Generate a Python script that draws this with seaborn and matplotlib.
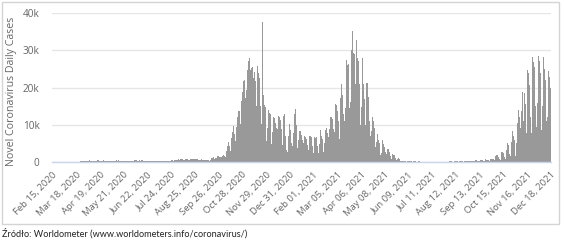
import numpy as np
import pandas as pd
import matplotlib
matplotlib.use("Agg")
import matplotlib.pyplot as plt
import seaborn as sns
from matplotlib.patches import Rectangle

# ---------------- data (daily new cases) ----------------
start_date = "2020-02-15"

cases_2020_02 = [0] * 15
cases_2020_03 = [0, 0, 0, 1, 0, 4, 0, 6, 6, 5, 9, 20, 17, 36, 24, 27, 27, 87, 74, 111,
                 111, 98, 115, 152, 150, 170, 249, 224, 193, 256, 243]
cases_2020_04 = [244, 392, 437, 244, 475, 311, 249, 374, 370, 380, 401, 268, 285, 380, 336,
                 461, 545, 263, 313, 381, 263, 316, 284, 431, 345, 215, 303, 341, 379, 307]
cases_2020_05 = [326, 225, 237, 285, 307, 273, 337, 404, 331, 287, 595, 291, 363, 417, 324,
                 285, 380, 318, 351, 279, 341, 367, 428, 395, 269, 338, 337, 399, 271, 335, 364]
cases_2020_06 = [230, 292, 361, 292, 576, 575, 599, 375, 282, 395, 341, 440, 381, 407, 314,
                 506, 301, 371, 300, 356, 300, 361, 282, 328, 226, 299, 238, 260, 230, 271]
cases_2020_07 = [286, 302, 371, 243, 262, 193, 239, 299, 358, 318, 299, 290, 193, 239, 268,
                 337, 358, 334, 322, 297, 306, 358, 377, 418, 443, 584, 337, 512, 615, 657, 658]
cases_2020_08 = [605, 512, 680, 640, 726, 809, 843, 726, 832, 548, 599, 624, 811, 843, 832,
                 726, 548, 587, 740, 828, 903, 794, 691, 599, 727, 887, 684, 900, 695, 592, 550]
cases_2020_09 = [597, 555, 840, 650, 670, 550, 470, 460, 605, 605, 550, 545, 430, 380, 600,
                 760, 1000, 1002, 1350, 1000, 745, 1136, 1040, 1100, 1587, 1584, 1306, 1000, 1326, 1300]
cases_2020_10 = [1552, 1937, 1934, 1584, 1306, 2236, 3003, 4280, 4739, 5300, 4178, 2938, 5068,
                 6526, 8099, 9622, 9105, 7482, 5709, 9291, 10040, 12107, 13632, 13628, 11742,
                 10241, 16300, 18820, 20156, 21629, 21897]
cases_2020_11 = [17171, 15578, 19364, 24692, 27143, 27086, 27875, 24785, 21713, 25221,
                 25484, 22683, 26415, 24051, 21854, 15002, 19152, 25696, 23975, 22464,
                 21800, 15000, 10100, 37500, 15362, 17856, 15178, 14837, 12143, 5733]
cases_2020_12 = [9105, 13855, 14816, 13236, 12838, 11220, 4917, 7998, 12196, 12697,
                 11875, 10340, 9105, 4385, 8977, 12455, 12168, 11243, 11174, 8857,
                 4633, 7754, 12283, 12953, 6945, 5834, 3211, 2577, 7106, 13397, 10233]
cases_2021_01 = [8500, 6945, 5034, 4360, 7880, 9011, 13003, 14156, 10047, 7318,
                 3879, 5946, 8248, 8003, 8293, 7240, 6024, 3579, 5162, 7113,
                 6830, 6855, 6091, 4659, 3108, 5001, 7000, 6900, 6600, 5900, 4400]
cases_2021_02 = [2454, 4530, 6789, 6496, 6586, 5612, 4210, 2410, 4888, 7960,
                 8694, 7008, 6150, 5032, 2755, 4981, 8695, 8805, 9054, 7900,
                 6600, 3800, 8800, 12142, 12030, 12100, 11500, 8800]
cases_2021_03 = [4786, 7937, 15698, 15250, 15817, 13574, 10896, 6170, 11000, 17260,
                 21045, 18000, 17000, 13000, 10896, 14396, 25052, 27278, 25998, 26405,
                 21849, 14578, 16000, 29978, 34151, 35143, 29253, 29000, 16700, 20880, 32874]
cases_2021_04 = [35251, 28000, 27000, 21000, 14000, 9900, 14700, 27887, 24000, 21000,
                 17000, 9902, 8245, 21283, 21130, 17400, 14200, 11000, 6900, 8200,
                 13900, 12000, 11000, 9000, 7000, 4000, 5400, 9000, 7500, 6000]
cases_2021_05 = [5000, 3200, 1900, 2300, 6000, 5500, 4800, 4000, 2800, 1500,
                 2100, 3600, 3400, 3000, 2600, 1700, 800, 1400, 2200, 2000,
                 1800, 1300, 1000, 500, 700, 1100, 1000, 800, 600, 400, 200]
cases_2021_06 = [250, 500, 400, 350, 300, 200, 100, 150, 400, 350, 300, 250, 200, 100, 90,
                 250, 220, 180, 150, 120, 60, 90, 160, 140, 120, 100, 60, 40, 110, 100]
cases_2021_07 = [100, 90, 80, 60, 50, 80, 90, 100, 80, 70, 50, 40, 70, 100, 90, 80,
                 70, 50, 40, 80, 110, 100, 90, 80, 50, 60, 120, 130, 110, 100, 80]
cases_2021_08 = [70, 90, 150, 180, 160, 140, 120, 100, 80, 160, 200, 220, 180, 150, 110, 90,
                 190, 220, 230, 200, 160, 120, 180, 250, 270, 260, 220, 170, 140, 300, 320]
cases_2021_09 = [400, 380, 350, 300, 250, 200, 450, 500, 450, 400, 350, 300, 250, 550, 600,
                 550, 500, 400, 350, 280, 700, 750, 650, 600, 500, 400, 350, 800, 900, 850]
cases_2021_10 = [800, 750, 600, 450, 1500, 2000, 1900, 1600, 1300, 700,
                 600, 2200, 2700, 2600, 2300, 1900, 1400, 900, 3200, 5400,
                 5000, 4500, 4100, 2200, 1500, 5500, 6700, 8300, 7000, 6000, 4000]
cases_2021_11 = [1600, 5000, 10400, 15300, 14000, 12200, 9000, 6000, 13800, 18800,
                 11000, 19000, 18500, 15500, 7900, 14700, 24700, 23900, 23200, 20600,
                 12000, 7800, 15300, 28200, 26800, 25400, 24800, 15000, 9400, 15800]
cases_2021_12 = [28700, 28500, 27000, 24000, 12000, 8500, 15000, 28200, 27000, 25000,
                 22000, 11000, 6000, 12000, 24300, 22900, 24000, 19900]

tick_labels = ["Feb 15, 2020", "Mar 18, 2020", "Apr 19, 2020", "May 21, 2020",
               "Jun 22, 2020", "Jul 24, 2020", "Aug 25, 2020", "Sep 26, 2020",
               "Oct 28, 2020", "Nov 29, 2020", "Dec 31, 2020", "Feb 01, 2021",
               "Mar 05, 2021", "Apr 06, 2021", "May 08, 2021", "Jun 09, 2021",
               "Jul 11, 2021", "Aug 12, 2021", "Sep 13, 2021", "Oct 15, 2021",
               "Nov 16, 2021", "Dec 18, 2021"]
tick_every = 32
y_ticks = [0, 10000, 20000, 30000, 40000]
y_tick_labels = ["0", "10k", "20k", "30k", "40k"]

y_title = "Novel Coronavirus Daily Cases"
source_text = "Źródło: Worldometer (www.worldometers.info/coronavirus/)"

# ---------------- build table ----------------
cases = (cases_2020_02 + cases_2020_03 + cases_2020_04 + cases_2020_05 + cases_2020_06 +
         cases_2020_07 + cases_2020_08 + cases_2020_09 + cases_2020_10 + cases_2020_11 +
         cases_2020_12 + cases_2021_01 + cases_2021_02 + cases_2021_03 + cases_2021_04 +
         cases_2021_05 + cases_2021_06 + cases_2021_07 + cases_2021_08 + cases_2021_09 +
         cases_2021_10 + cases_2021_11 + cases_2021_12)
dates = pd.date_range(start_date, periods=len(cases), freq="D")
df = pd.DataFrame({"day": np.arange(len(cases)), "date": dates, "cases": cases})

# ---------------- plot ----------------
sns.set_theme(style="white")
plt.rcParams["font.family"] = ["Open Sans", "DejaVu Sans"]

W, H = 564, 243
fig = plt.figure(figsize=(W / 100, H / 100), dpi=100)
fig.patch.set_facecolor("white")

left, right, top, bottom = 52, 551, 13, 162
ax = fig.add_axes([left / W, 1 - bottom / H, (right - left) / W, (bottom - top) / H])

sns.barplot(data=df, x="day", y="cases", color="#999999", saturation=1,
            width=1.0, linewidth=0, errorbar=None, native_scale=True, ax=ax)

ax.set_xlim(-0.5, len(cases) - 0.5)
ax.set_ylim(0, 40000)

ax.set_yticks(y_ticks)
ax.set_yticklabels(y_tick_labels)
ax.yaxis.grid(True, color="#e6e6e6", linewidth=1)
ax.set_axisbelow(True)
ax.tick_params(axis="y", length=0, pad=9, labelsize=7.2, labelcolor="#666666")

xpos = np.arange(len(tick_labels)) * tick_every
ax.set_xticks(xpos)
ax.set_xticklabels(tick_labels, rotation=45, ha="right", va="top",
                   rotation_mode="anchor")
ax.tick_params(axis="x", length=0, pad=6, labelsize=6.8, labelcolor="#666666")

for s in ["top", "right", "left"]:
    ax.spines[s].set_visible(False)
ax.spines["bottom"].set_color("#ccd6eb")
ax.spines["bottom"].set_linewidth(1)

ax.set_xlabel("")
ax.set_ylabel(y_title, fontsize=7.7, color="#666666")
ax.yaxis.set_label_coords((17 - left) / (right - left), (bottom - 91) / (bottom - top))

# outer frame
fig.patches.append(Rectangle((1.5 / W, 1 - 224 / H), (559 - 1.5) / W, (224 - 2) / H,
                             transform=fig.transFigure, fill=False,
                             edgecolor="#d4d4d4", linewidth=1))

fig.text(2 / W, 1 - 233 / H, source_text, fontsize=6.6, color="#222222",
         ha="left", va="center", family=["Lato", "DejaVu Sans"])

fig.savefig("out.png", dpi=100, facecolor="white")
